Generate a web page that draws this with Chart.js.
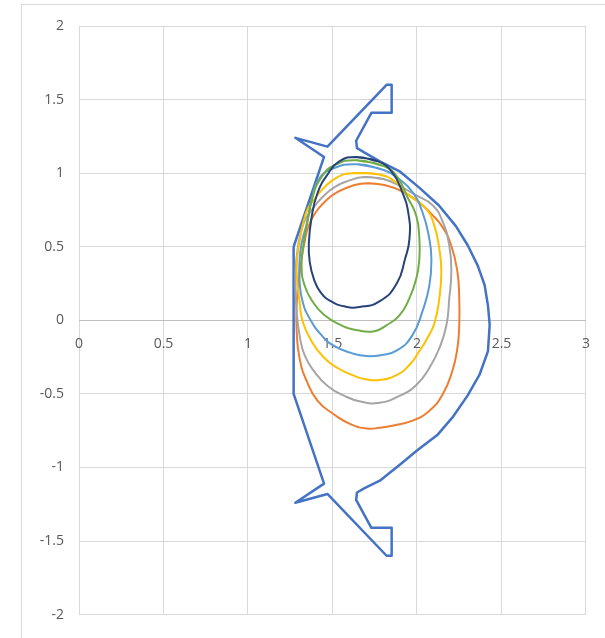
<!DOCTYPE html>
<html>
<head>
<meta charset="utf-8">
<script src="https://cdn.jsdelivr.net/npm/chart.js@4/dist/chart.umd.min.js"></script>
<style>
  html, body { margin: 0; padding: 0; background: #fff; overflow: hidden; }
  #frame {
    position: absolute; left: 21px; top: 4px; width: 700px; height: 700px;
    border-left: 1px solid #d9d9d9; border-top: 1px solid #d9d9d9;
  }
  #wrap { position: absolute; left: 0; top: 0; width: 605px; height: 638px; }
</style>
</head>
<body>
<div id="frame"></div>
<div id="wrap"><canvas id="chart"></canvas></div>
<script>
// axis ticks
const xTicks = [0, 0.5, 1, 1.5, 2, 2.5, 3];
const yTicks = [-2, -1.5, -1, -0.5, 0, 0.5, 1, 1.5, 2];

// vessel wall + separatrix (series 1)
const wallX = [1.27, 1.45, 1.28, 1.47, 1.82, 1.85, 1.85, 1.73, 1.64, 1.645, 1.69, 1.78, 1.90, 2.01, 2.13, 2.23, 2.30, 2.36, 2.40, 2.42, 2.43, 2.42, 2.37, 2.30, 2.21, 2.12, 2.00, 1.90, 1.78, 1.69, 1.645, 1.64, 1.73, 1.85, 1.85, 1.82, 1.47, 1.28, 1.45, 1.27, 1.27];
const wallY = [0.50, 1.11, 1.24, 1.18, 1.60, 1.60, 1.41, 1.41, 1.22, 1.17, 1.14, 1.08, 1.01, 0.905, 0.78, 0.64, 0.51, 0.37, 0.24, 0.10, -0.03, -0.21, -0.37, -0.51, -0.66, -0.78, -0.885, -0.98, -1.09, -1.14, -1.17, -1.22, -1.41, -1.41, -1.60, -1.60, -1.18, -1.24, -1.11, -0.50, 0.50];

// flux contours, largest to smallest
const orangeX = [1.707, 1.807, 1.908, 2.002, 2.085, 2.150, 2.203, 2.239, 2.250, 2.250, 2.239, 2.209, 2.150, 2.073, 1.973, 1.855, 1.778, 1.707, 1.613, 1.512, 1.412, 1.347, 1.305, 1.288, 1.288, 1.299, 1.317, 1.335, 1.353, 1.394, 1.453, 1.530, 1.630, 1.707, 1.807];
const orangeY = [0.932, 0.919, 0.878, 0.811, 0.723, 0.635, 0.507, 0.331, 0.149, -0.034, -0.189, -0.345, -0.507, -0.615, -0.682, -0.716, -0.730, -0.736, -0.709, -0.642, -0.547, -0.412, -0.257, -0.074, 0.101, 0.250, 0.419, 0.534, 0.622, 0.723, 0.804, 0.872, 0.919, 0.932, 0.919];

const greyX = [1.689, 1.807, 1.908, 2.002, 2.091, 2.150, 2.191, 2.203, 2.191, 2.174, 2.132, 2.073, 1.996, 1.896, 1.778, 1.672, 1.571, 1.471, 1.394, 1.335, 1.305, 1.288, 1.282, 1.282, 1.294, 1.311, 1.341, 1.382, 1.441, 1.512, 1.589, 1.689, 1.807];
const greyY = [0.973, 0.959, 0.905, 0.845, 0.784, 0.676, 0.507, 0.331, 0.149, -0.034, -0.189, -0.324, -0.439, -0.514, -0.561, -0.554, -0.514, -0.446, -0.351, -0.236, -0.101, 0.061, 0.196, 0.351, 0.486, 0.588, 0.689, 0.757, 0.838, 0.905, 0.946, 0.973, 0.959];

const yellowX = [1.613, 1.766, 1.866, 1.943, 2.056, 2.103, 2.132, 2.144, 2.132, 2.103, 2.061, 2.014, 1.955, 1.878, 1.778, 1.689, 1.630, 1.530, 1.441, 1.376, 1.323, 1.305, 1.294, 1.288, 1.294, 1.305, 1.323, 1.353, 1.394, 1.453, 1.530, 1.613, 1.766];
const yellowY = [1.000, 0.993, 0.946, 0.858, 0.757, 0.642, 0.486, 0.331, 0.149, -0.020, -0.122, -0.209, -0.304, -0.372, -0.405, -0.399, -0.378, -0.324, -0.243, -0.142, -0.007, 0.128, 0.236, 0.351, 0.453, 0.534, 0.642, 0.757, 0.824, 0.905, 0.973, 1.000, 0.993];

const blueX = [1.648, 1.807, 1.896, 1.973, 2.032, 2.073, 2.085, 2.073, 2.032, 1.973, 1.884, 1.790, 1.701, 1.613, 1.512, 1.435, 1.364, 1.323, 1.305, 1.305, 1.317, 1.347, 1.376, 1.412, 1.494, 1.648, 1.807];
const blueY = [1.061, 1.020, 0.959, 0.872, 0.736, 0.554, 0.419, 0.236, 0.061, -0.101, -0.203, -0.236, -0.243, -0.223, -0.176, -0.101, 0.014, 0.128, 0.264, 0.399, 0.520, 0.655, 0.811, 0.946, 1.027, 1.061, 1.020];

const greenX = [1.642, 1.807, 1.884, 1.943, 1.996, 2.014, 2.014, 1.996, 1.955, 1.896, 1.819, 1.748, 1.648, 1.553, 1.453, 1.382, 1.335, 1.317, 1.329, 1.353, 1.382, 1.435, 1.512, 1.642, 1.807];
const greenY = [1.088, 1.047, 0.973, 0.838, 0.709, 0.554, 0.419, 0.284, 0.149, 0.034, -0.034, -0.074, -0.068, -0.034, 0.034, 0.128, 0.236, 0.365, 0.520, 0.676, 0.838, 0.973, 1.054, 1.088, 1.047];

const navyX = [1.64, 1.77, 1.85, 1.91, 1.95, 1.955, 1.93, 1.88, 1.78, 1.66, 1.57, 1.49, 1.43, 1.39, 1.365, 1.36, 1.375, 1.41, 1.47, 1.54, 1.64, 1.77];
const navyY = [1.11, 1.08, 1.01, 0.88, 0.72, 0.55, 0.42, 0.25, 0.13, 0.09, 0.095, 0.13, 0.19, 0.28, 0.40, 0.52, 0.69, 0.86, 0.99, 1.08, 1.11, 1.08];

const series = [
    { xs: wallX, ys: wallY, color: '#4472C4', width: 2.5, tension: 0 },
    { xs: orangeX, ys: orangeY, color: '#ED7D31', width: 2, tension: 0.5 },
    { xs: greyX, ys: greyY, color: '#A5A5A5', width: 2, tension: 0.5 },
    { xs: yellowX, ys: yellowY, color: '#FFC000', width: 2, tension: 0.5 },
    { xs: blueX, ys: blueY, color: '#5B9BD5', width: 2, tension: 0.5 },
    { xs: greenX, ys: greenY, color: '#70AD47', width: 2, tension: 0.5 },
    { xs: navyX, ys: navyY, color: '#264478', width: 2, tension: 0.5 }
];

const datasets = series.map((s, i) => ({
    data: s.xs.map((x, k) => ({ x: x, y: s.ys[k] })),
    showLine: true,
    borderColor: s.color,
    backgroundColor: s.color,
    borderWidth: s.width,
    borderJoinStyle: 'round',
    pointRadius: 0,
    tension: s.tension,
    fill: false,
    order: series.length - i
}));

const tickFont = { family: "'Open Sans', 'Liberation Sans', sans-serif", size: 14 };
const gridColor = '#d9d9d9';

new Chart(document.getElementById('chart'), {
    type: 'scatter',
    data: { datasets: datasets },
    options: {
        responsive: true,
        maintainAspectRatio: false,
        animation: false,
        layout: { padding: { left: 0, top: 26, right: 18, bottom: 20 } },
        plugins: { legend: { display: false }, tooltip: { enabled: false } },
        scales: {
            x: {
                type: 'linear',
                min: 0,
                max: 3,
                position: { y: 0 },
                afterBuildTicks: (scale) => { scale.ticks = xTicks.map(v => ({ value: v })); },
                ticks: { font: tickFont, color: '#595959', padding: 15, maxRotation: 0, callback: (v) => String(v) },
                grid: { color: gridColor, drawTicks: false },
                border: { display: true, color: '#bfbfbf', width: 1 }
            },
            y: {
                type: 'linear',
                min: -2,
                max: 2,
                afterBuildTicks: (scale) => { scale.ticks = yTicks.map(v => ({ value: v })); },
                afterFit: (scale) => { scale.width = 79; },
                ticks: { font: tickFont, color: '#595959', padding: 15, callback: (v) => String(v) },
                grid: { color: gridColor, drawTicks: false },
                border: { display: false }
            }
        }
    }
});
</script>
</body>
</html>
